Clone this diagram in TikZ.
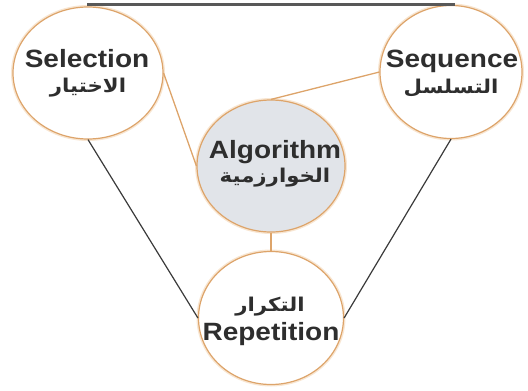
\documentclass[tikz,border=0pt]{standalone}
\usepackage{fontspec}
\setmainfont{Liberation Sans}
\newfontfamily\arabicfont[Script=Arabic]{DejaVu Sans}
\TeXXeTstate=1
\usetikzlibrary{shapes.geometric}
\definecolor{ring}{HTML}{DDA46A}
\definecolor{glow}{HTML}{F8E6D2}
\definecolor{algfill}{HTML}{E1E4E9}
\definecolor{txt}{HTML}{2E2E2E}
\definecolor{dark}{HTML}{3A3A3A}
\tikzset{
  bubble/.style={ellipse, draw=ring, line width=1.2pt, fill=white,
    minimum width=148pt, minimum height=132pt, inner sep=0pt,
    preaction={draw=glow, line width=4pt}},
  en/.style={anchor=base, text=txt, font=\fontsize{25}{25}\selectfont\bfseries, inner sep=0pt},
  ar/.style={anchor=base, text=txt, font=\arabicfont\fontsize{19}{19}\selectfont\bfseries, inner sep=0pt},
  oline/.style={draw=ring, line width=1.3pt},
  kline/.style={draw=dark, line width=1.2pt},
}
\newcommand{\wide}[1]{\scalebox{1.12}[1]{#1}}
\begin{document}
\begin{tikzpicture}[x=1pt,y=-1pt]
\useasboundingbox (0,0) rectangle (528,391);
% circles
\node[bubble, minimum width=150pt] (sel) at (88,73) {};
\node[bubble, minimum width=142pt, minimum height=133pt] (seq) at (451,72) {};
\node[bubble, fill=algfill] (alg) at (271,166) {};
\node[bubble, minimum width=145pt, minimum height=133pt] (rep) at (271,318) {};
% top line
\coordinate (tl) at (87,4.5);
\coordinate (tr) at (455,4.5);
\draw[draw=dark!85, line width=2.4pt] (tl) -- (tr);
% connectors
\draw[oline] (sel.east) -- (alg.west);
\draw[oline] (seq.west) -- (alg.north);
\draw[oline] (alg.south) -- (rep.north);
\draw[kline] (sel.south) -- (rep.west);
\draw[kline] (seq.south) -- (rep.east);
% texts
\node[en] (selen) at (87,67) {\wide{Selection}};
\node[ar] (selar) at (88,92) {\wide{\beginR الاختيار\endR}};
\node[en] (seqen) at (452,67) {\wide{Sequence}};
\node[ar] (seqar) at (451,93) {\wide{\beginR التسلسل\endR}};
\node[en] (algen) at (275,158) {\wide{Algorithm}};
\node[ar] (algar) at (275,182) {\wide{\beginR الخوارزمية\endR}};
\node[ar] (repar) at (270,311) {\wide{\beginR التكرار\endR}};
\node[en] (repen) at (271,340) {\wide{Repetition}};
\end{tikzpicture}
\end{document}
